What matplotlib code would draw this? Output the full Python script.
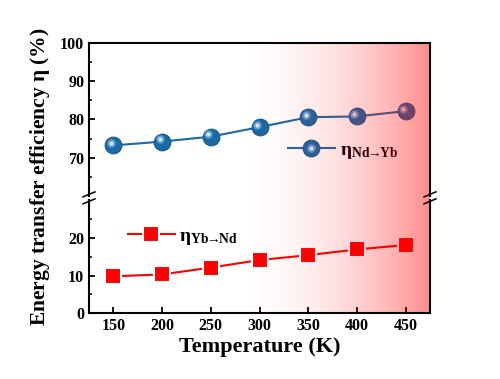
import matplotlib

matplotlib.use("Agg")
import matplotlib.pyplot as plt
import numpy as np
from matplotlib.lines import Line2D
from matplotlib.legend_handler import HandlerTuple
from matplotlib.transforms import offset_copy

plt.rcParams["font.family"] = ["Liberation Serif", "DejaVu Serif"]
plt.rcParams["font.weight"] = "bold"
plt.rcParams["mathtext.fontset"] = "custom"
plt.rcParams["mathtext.rm"] = "Liberation Serif"
plt.rcParams["mathtext.bf"] = "Liberation Serif:bold"
plt.rcParams["mathtext.it"] = "Liberation Serif:italic"

temperature = [150, 200, 250, 300, 350, 400, 450]
eta_nd_yb = [73.2, 74.2, 75.5, 78.0, 80.6, 80.8, 82.2]
eta_yb_nd = [9.8, 10.3, 12.1, 14.1, 15.4, 16.9, 18.1]
label_nd_yb = r"$\mathbf{\eta}_{\mathbf{Nd}\!\!\rightarrow\!\!\mathbf{Yb}}$"
label_yb_nd = r"$\mathbf{\eta}_{\mathbf{Yb}\!\!\rightarrow\!\!\mathbf{Nd}}$"

C_BLUE = "#1b6aa5"
C_BLUE_EDGE = "#155a8e"
C_RED = "#ff0000"
XLIM = (125, 475)

fig = plt.figure(figsize=(5, 3.79), dpi=100)
L, W = 0.178, 0.682
ax_top = fig.add_axes([L, 0.4836, W, 0.4022])
ax_bot = fig.add_axes([L, 0.1733, W, 0.299])

for ax in (ax_top, ax_bot):
    ax.set_xlim(*XLIM)
    ax.patch.set_alpha(0)
    for s in ax.spines.values():
        s.set_visible(False)
    ax.tick_params(axis="both", direction="in", width=1.3, length=4,
                   labelsize=11.5)
    ax.tick_params(axis="y", which="minor", direction="in", width=1.1, length=2.5)

# upper panel
ax_top.set_ylim(60, 100)
ax_top.set_yticks([70, 80, 90, 100])
ax_top.set_yticks([65, 75, 85, 95], minor=True)
ax_top.set_xticks([])
ax_top.plot(temperature, eta_nd_yb, color=C_BLUE, lw=1.5, zorder=2)
ax_top.plot(temperature, eta_nd_yb, ls="none", marker="o", ms=12,
            mfc=C_BLUE, mec=C_BLUE_EDGE, mew=0.8, zorder=3)
hl = offset_copy(ax_top.transData, fig=fig, x=-2.5, y=2.5, units="dots")
ax_top.plot(temperature, eta_nd_yb, ls="none", marker="o", ms=6,
            mfc="#5f9fd0", mec="none", transform=hl, zorder=4)
ax_top.plot(temperature, eta_nd_yb, ls="none", marker="o", ms=3,
            mfc="#d8e8f4", mec="none", transform=hl, zorder=5)

h_blue = (Line2D([], [], color=C_BLUE, lw=1.5, marker="o", ms=12,
                 mfc=C_BLUE, mec=C_BLUE_EDGE, mew=0.8),
          Line2D([], [], ls="none", marker="o", ms=6, mfc="#5f9fd0", mec="none"),
          Line2D([], [], ls="none", marker="o", ms=3, mfc="#d8e8f4", mec="none"))
ax_top.legend([h_blue], [label_nd_yb], handler_map={tuple: HandlerTuple(ndivide=1, pad=0)},
              loc="center left", bbox_to_anchor=(288 / 500, 1 - 151 / 379),
              bbox_transform=fig.transFigure, frameon=False, fontsize=14,
              handlelength=2.4, handletextpad=0.3, borderpad=0, borderaxespad=0)

# lower panel
ax_bot.set_ylim(0, 30)
ax_bot.set_yticks([0, 10, 20])
ax_bot.set_yticks([5, 15, 25], minor=True)
ax_bot.set_xticks(temperature)
ax_bot.plot(temperature, eta_yb_nd, color=C_RED, lw=1.5, marker="s", ms=11.5,
            mfc=C_RED, mec="white", mew=1.5, zorder=3, label=label_yb_nd)
ax_bot.legend(loc="center left", bbox_to_anchor=(128 / 500, 1 - 237 / 379),
              bbox_transform=fig.transFigure, frameon=False, fontsize=14,
              handlelength=2.4, handletextpad=0.2, borderpad=0, borderaxespad=0)
for lbl in ax_bot.get_yticklabels() + ax_bot.get_xticklabels() + ax_top.get_yticklabels():
    lbl.set_fontweight("bold")
ax_bot.set_xlabel("Temperature (K)", fontsize=16, fontweight="bold", labelpad=2)
fig.text(0.08, 0.535, r"Energy transfer efficiency $\mathbf{\eta}$ (%)", rotation=90,
         ha="center", va="center", fontsize=15.5, fontweight="bold")

# red gradient overlay + frame
bot, top = 0.1733, 0.8858
ov = fig.add_axes([L, bot, W, top - bot], zorder=10)
ov.set_xlim(*XLIM)
ov.set_ylim(0, 1)
ov.axis("off")
xs = np.linspace(XLIM[0], XLIM[1], 500)
t = np.clip((xs - 268) / (XLIM[1] - 268), 0, 1)
grad = np.zeros((1, len(xs), 4))
grad[..., 0] = 1.0
grad[..., 3] = 0.45 * t ** 2
ov.imshow(grad, extent=[XLIM[0], XLIM[1], 0, 1], aspect="auto", zorder=1)

h = top - bot
y_gap_lo = (0.4723 - bot) / h
y_gap_hi = (0.4836 - bot) / h
frame = dict(transform=ov.transAxes, color="black", lw=1.5, clip_on=False, zorder=5,
             solid_capstyle="projecting")
ov.plot([0, 1], [0, 0], **frame)
ov.plot([0, 1], [1, 1], **frame)
for xe in (0, 1):
    ov.plot([xe, xe], [0, y_gap_lo], **frame)
    ov.plot([xe, xe], [y_gap_hi, 1], **frame)
    yc = (y_gap_lo + y_gap_hi) / 2
    dx, dy = 6 / 341, 2.5 / 270
    for off in (-3.5 / 270, 3.5 / 270):
        ov.plot([xe - dx, xe + dx], [yc + off - dy, yc + off + dy],
                transform=ov.transAxes, color="black", lw=1.1, clip_on=False, zorder=6)

fig.savefig("out.png", dpi=100)
